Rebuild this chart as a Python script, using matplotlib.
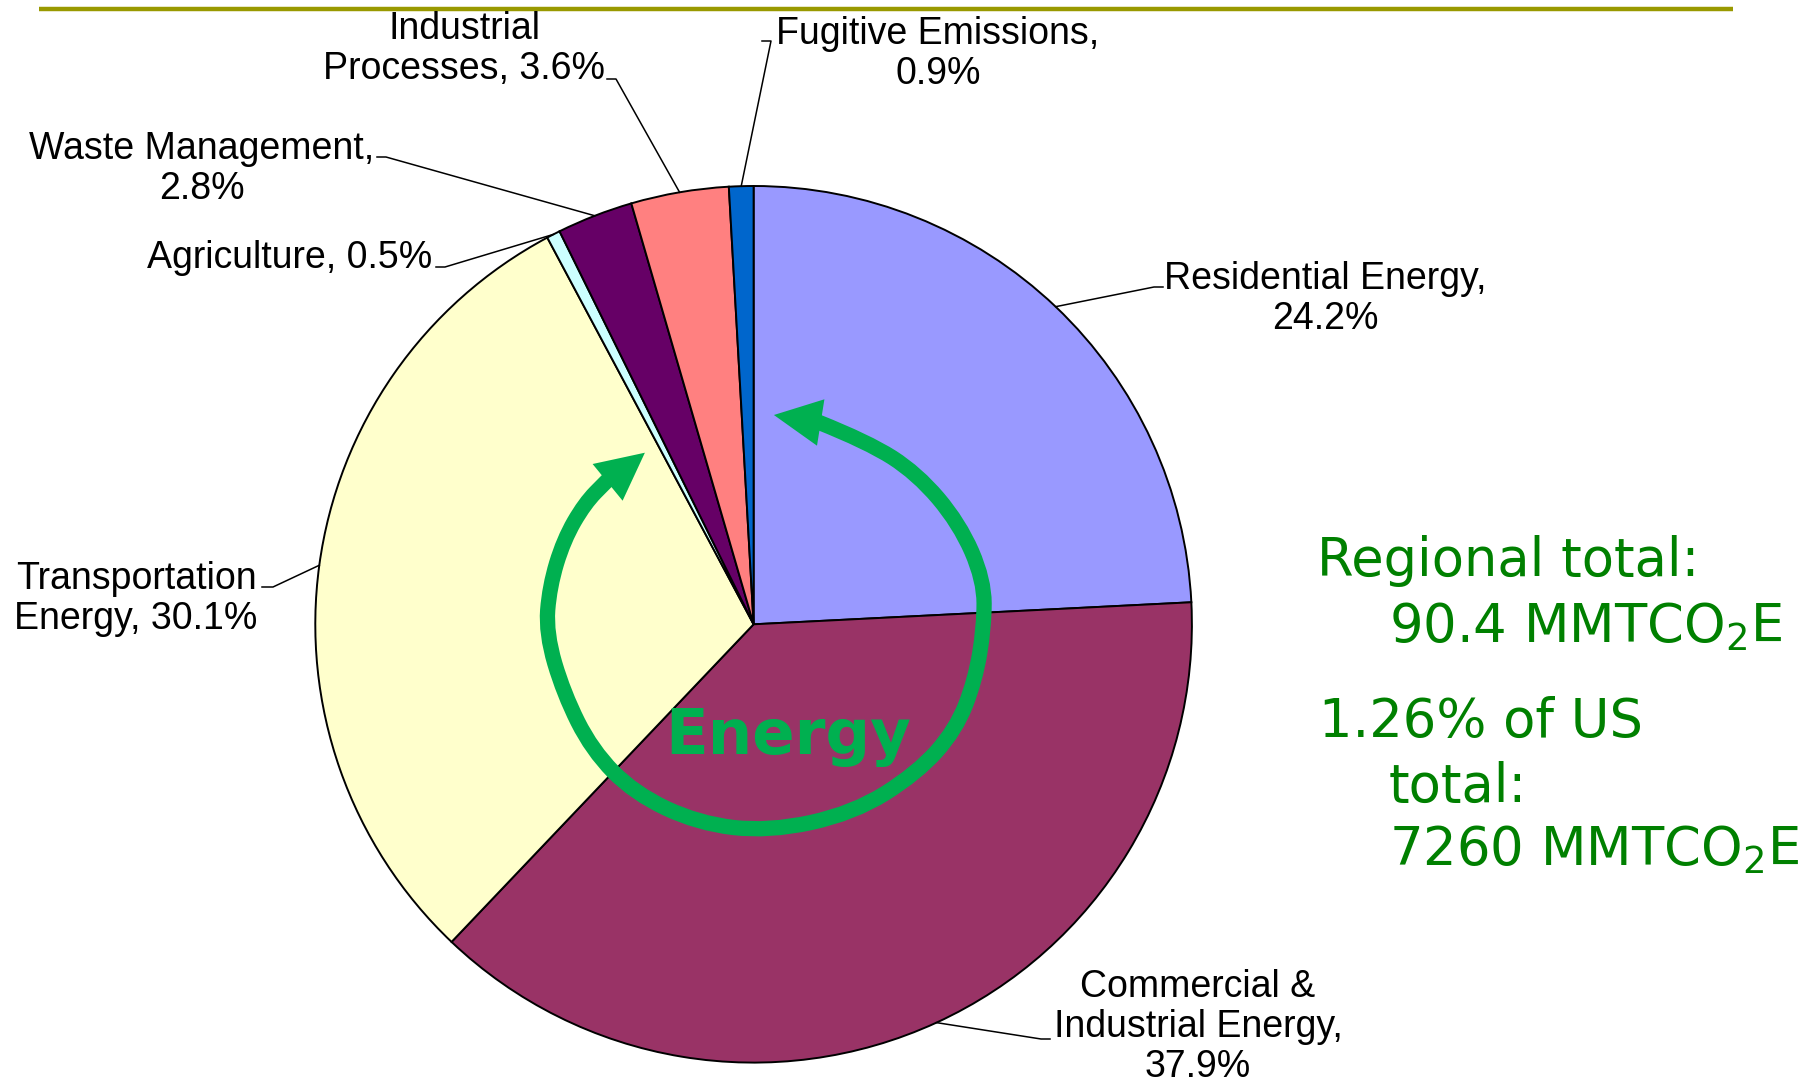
import matplotlib
matplotlib.use("Agg")
import matplotlib.pyplot as plt
from matplotlib.patches import Polygon, PathPatch
from matplotlib.path import Path
import numpy as np

# regional GHG emissions by sector (% of total)
sectors = ["Residential Energy", "Commercial &\nIndustrial Energy", "Transportation\nEnergy",
           "Agriculture", "Waste Management", "Industrial\nProcesses", "Fugitive Emissions"]
shares = [24.2, 37.9, 30.1, 0.5, 2.8, 3.6, 0.9]
colors = ["#9999FF", "#993366", "#FFFFCC", "#CCFFFF", "#660066", "#FF8080", "#0066CC"]

# label text as it appears on the chart
label_texts = ["Residential Energy,\n24.2%",
               "Commercial &\nIndustrial Energy,\n37.9%",
               "Transportation\nEnergy, 30.1%",
               "Agriculture, 0.5%",
               "Waste Management,\n2.8%",
               "Industrial\nProcesses, 3.6%",
               "Fugitive Emissions,\n0.9%"]

W, H = 1818, 1085
cx, cy, rad = 753.6, 624.3, 438.3

# label centre (x, y) and leader elbow (x0, x1, y), all in pixels from top-left
label_pos = [(1325, 299), (1198, 1027), (136, 599), (290, 258), (202, 169), (464, 49), (938, 54)]
leader_h = [(1154, 1163, 287), (1041, 1050, 1039), (273, 262, 587), (445, 436, 267),
            (386, 377, 157), (616, 607, 79), (771, 762, 41)]

green_lines = [("Regional total:", 1317, 561), ("90.4 MMTCO$_2$E", 1389, 627),
               ("1.26% of US", 1319, 722), ("total:", 1389, 787), ("7260 MMTCO$_2$E", 1389, 850)]

# hand drawn looking "Energy" loop arrow (pixels)
loop = [(818.0, 422.0), (867.5, 441.7), (917.0, 473.3), (959.4, 523.3), (984.1, 580.0),
        (984.1, 626.7), (975.3, 680.0), (955.8, 730.0), (917.0, 773.3), (853.4, 813.3),
        (768.6, 831.7), (697.9, 823.3), (634.3, 793.3), (591.9, 750.0), (563.6, 693.3),
        (545.9, 633.3), (549.5, 586.7), (563.6, 540.0), (584.8, 503.3), (606.0, 481.7),
        (620.0, 468.0)]
head_a = [(644.9, 452.7), (592.6, 464.0), (622.6, 500.7)]
head_b = [(773.9, 415.0), (824.4, 399.3), (817.0, 445.7)]


def flip(pts):
    return [(x, H - y) for x, y in pts]


def smooth_path(pts):
    # quadratic segments through midpoints, keeps the hand drawn shape but without corners
    pts = np.array(flip(pts))
    verts = [pts[0]]
    codes = [Path.MOVETO]
    for i in range(1, len(pts) - 1):
        verts += [pts[i], (pts[i] + pts[i + 1]) / 2]
        codes += [Path.CURVE3, Path.CURVE3]
    verts.append(pts[-1])
    codes.append(Path.LINETO)
    return Path(verts, codes)


fig = plt.figure(figsize=(W / 100, H / 100), dpi=100)
ax = fig.add_axes([0, 0, 1, 1])

wedges, _ = ax.pie(shares, colors=colors, startangle=90, counterclock=False,
                   center=(cx, H - cy), radius=rad,
                   wedgeprops=dict(edgecolor="black", linewidth=1.4))

ax.set_xlim(0, W)
ax.set_ylim(0, H)
ax.set_aspect("equal")
ax.axis("off")

# olive rule at the top
ax.plot([39, 1733], [H - 9, H - 9], color="#999900", lw=3.2, solid_capstyle="butt")

# labels + leader lines
for w, txt, (tx, ty), (x0, x1, ly) in zip(wedges, label_texts, label_pos, leader_h):
    mid = np.deg2rad((w.theta1 + w.theta2) / 2)
    ex = cx + rad * np.cos(mid)
    ey = (H - cy) + rad * np.sin(mid)
    ax.plot([ex, x0, x1], [ey, H - ly, H - ly], color="black", lw=1.1)
    ax.text(tx, H - ty, txt, ha="center", va="center", multialignment="center",
            fontsize=27, family="Liberation Sans", color="black", linespacing=1.13)

# green loop arrow
ax.add_patch(PathPatch(smooth_path(loop), facecolor="none", edgecolor="#00B050",
                       lw=11, capstyle="butt", joinstyle="round"))
ax.add_patch(Polygon(flip(head_a), closed=True, color="#00B050", lw=0))
ax.add_patch(Polygon(flip(head_b), closed=True, color="#00B050", lw=0))
ax.text(788, H - 737, "Energy", ha="center", va="center", fontsize=45,
        fontweight="bold", family="DejaVu Sans", color="#00B050")

for txt, x, y in green_lines:
    ax.text(x, H - y, txt, ha="left", va="center", fontsize=38,
            family="DejaVu Sans", color="#008000")

fig.savefig("out.png", dpi=100)
